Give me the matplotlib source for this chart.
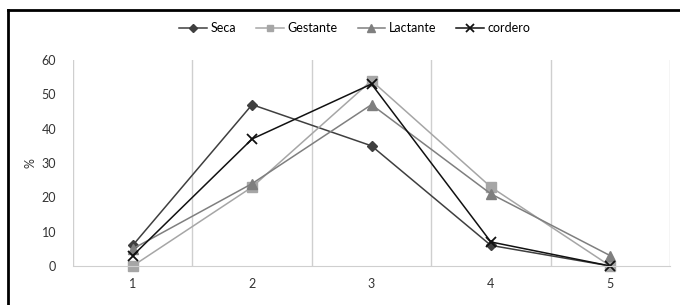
import matplotlib
matplotlib.use("Agg")
import matplotlib.pyplot as plt
from matplotlib.lines import Line2D

categories = [1, 2, 3, 4, 5]
seca = [6, 47, 35, 6, 0]
gestante = [0, 23, 54, 23, 0]
lactante = [5, 24, 47, 21, 3]
cordero = [3, 37, 53, 7, 0]
yticks = [0, 10, 20, 30, 40, 50, 60]

plt.rcParams['font.family'] = ['Lato', 'DejaVu Sans']

W, H = 680, 305
fig = plt.figure(figsize=(W / 100, H / 100), dpi=100)
ax = fig.add_axes([73 / W, 1 - 266 / H, (670 - 73) / W, (266 - 60) / H])

kw = dict(lw=1.1, clip_on=False)
ax.plot(categories, seca, color='#3f3f3f', marker='D', markersize=5, label='Seca', **kw)
ax.plot(categories, gestante, color='#a6a6a6', marker='s', markersize=6.5, label='Gestante', **kw)
ax.plot(categories, lactante, color='#7f7f7f', marker='^', markersize=7, label='Lactante', **kw)
ax.plot(categories, cordero, color='#111111', marker='x', markersize=7, mew=1.3, label='cordero', **kw)

ax.set_xlim(0.5, 5.5)
ax.set_ylim(0, 60)
ax.set_xticks(categories)
ax.set_xticklabels([str(c) for c in categories])
ax.set_yticks(yticks)
for b in [0.5, 1.5, 2.5, 3.5, 4.5, 5.5]:
    ax.axvline(b, color='#cfcfcf', lw=1, zorder=0)
for s in ['top', 'right', 'left']:
    ax.spines[s].set_visible(False)
ax.spines['bottom'].set_color('#cfcfcf')
ax.tick_params(length=0, labelsize=9, colors='#333333', pad=9)
ax.tick_params(axis='y', pad=12)
ax.set_ylabel('%', fontsize=9, color='#333333', labelpad=4)

fig.legend(loc='center', bbox_to_anchor=(355 / W, 1 - 28 / H), ncol=4, frameon=False,
           fontsize=9, handlelength=2.2, columnspacing=1.6, handletextpad=0.3,
           markerscale=0.75, borderaxespad=0, borderpad=0)

fig.add_artist(Line2D([8 / W, 8 / W], [0, 1 - 10 / H], transform=fig.transFigure, color='black', lw=2))
fig.add_artist(Line2D([8 / W, 1], [1 - 10 / H, 1 - 10 / H], transform=fig.transFigure, color='black', lw=2))

fig.savefig('out.png', dpi=100)
